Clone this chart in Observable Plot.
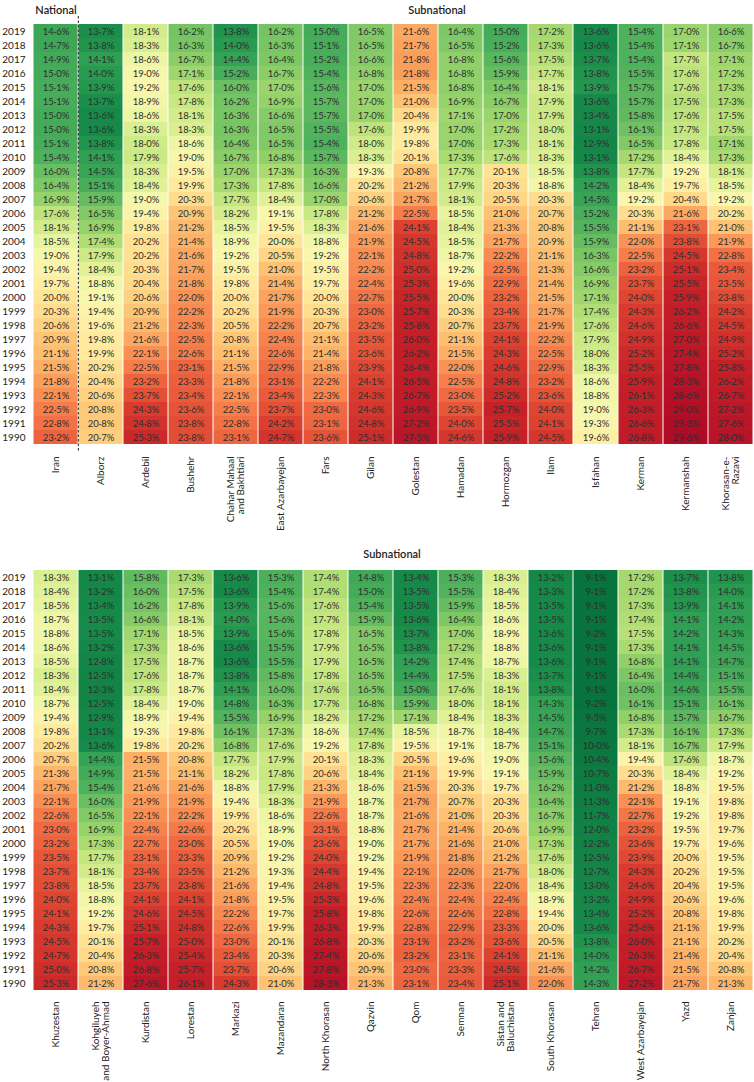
<!DOCTYPE html>
<html>
<head>
<meta charset="utf-8">
<script src="https://cdn.jsdelivr.net/npm/d3@7"></script>
<script src="https://cdn.jsdelivr.net/npm/@observablehq/plot@0.6"></script>
<style>
  html, body { margin: 0; padding: 0; background: #fff; }
  #chart { width: 754px; }
  #chart svg { display: block; }
</style>
</head>
<body>
<div id="chart"></div>
<script>
const years = [2019, 2018, 2017, 2016, 2015, 2014, 2013, 2012, 2011, 2010, 2009, 2008, 2007, 2006, 2005, 2004, 2003, 2002, 2001, 2000, 1999, 1998, 1997, 1996, 1995, 1994, 1993, 1992, 1991, 1990];

// Top panel locations
const topLocations = ["Iran", "Alborz", "Ardebil", "Bushehr", "Chahar Mahaal and Bakhtiari", "East Azarbayejan", "Fars", "Gilan", "Golestan", "Hamadan", "Hormozgan", "Ilam", "Isfahan", "Kerman", "Kermanshah", "Khorasan-e-Razavi"];
const topLabels = ["Iran", "Alborz", "Ardebil", "Bushehr", "Chahar Mahaal\nand Bakhtiari", "East Azarbayejan", "Fars", "Gilan", "Golestan", "Hamadan", "Hormozgan", "Ilam", "Isfahan", "Kerman", "Kermanshah", "Khorasan-e-\nRazavi"];

// Values per location, 2019 -> 1990 (%)
const iran = [14.6, 14.7, 14.9, 15.0, 15.1, 15.1, 15.0, 15.0, 15.1, 15.4, 16.0, 16.4, 16.9, 17.6, 18.1, 18.5, 19.0, 19.4, 19.7, 20.0, 20.3, 20.6, 20.9, 21.1, 21.5, 21.8, 22.1, 22.5, 22.8, 23.2];
const alborz = [13.7, 13.8, 14.1, 14.0, 13.9, 13.7, 13.6, 13.6, 13.8, 14.1, 14.5, 15.1, 15.9, 16.5, 16.9, 17.4, 17.9, 18.4, 18.8, 19.1, 19.4, 19.6, 19.8, 19.9, 20.2, 20.4, 20.6, 20.8, 20.8, 20.7];
const ardebil = [18.1, 18.3, 18.6, 19.0, 19.2, 18.9, 18.6, 18.3, 18.0, 17.9, 18.3, 18.4, 19.0, 19.4, 19.8, 20.2, 20.2, 20.3, 20.4, 20.6, 20.9, 21.2, 21.6, 22.1, 22.5, 23.2, 23.7, 24.3, 24.8, 25.3];
const bushehr = [16.2, 16.3, 16.7, 17.1, 17.6, 17.8, 18.1, 18.3, 18.6, 19.0, 19.5, 19.9, 20.3, 20.9, 21.2, 21.4, 21.6, 21.7, 21.8, 22.0, 22.2, 22.3, 22.5, 22.6, 23.1, 23.3, 23.4, 23.6, 23.8, 23.8];
const chaharMahaal = [13.8, 14.0, 14.4, 15.2, 16.0, 16.2, 16.3, 16.3, 16.4, 16.7, 17.0, 17.3, 17.7, 18.2, 18.5, 18.9, 19.2, 19.5, 19.8, 20.0, 20.2, 20.5, 20.8, 21.1, 21.5, 21.8, 22.1, 22.5, 22.8, 23.1];
const eastAzarbayejan = [16.2, 16.3, 16.4, 16.7, 17.0, 16.9, 16.6, 16.5, 16.5, 16.8, 17.3, 17.8, 18.4, 19.1, 19.5, 20.0, 20.5, 21.0, 21.4, 21.7, 21.9, 22.2, 22.4, 22.6, 22.9, 23.1, 23.4, 23.7, 24.2, 24.7];
const fars = [15.0, 15.1, 15.2, 15.4, 15.6, 15.7, 15.7, 15.5, 15.4, 15.7, 16.3, 16.6, 17.0, 17.8, 18.3, 18.8, 19.2, 19.5, 19.7, 20.0, 20.3, 20.7, 21.1, 21.4, 21.8, 22.2, 22.3, 23.0, 23.1, 23.6];
const gilan = [16.5, 16.5, 16.6, 16.8, 17.0, 17.0, 17.0, 17.6, 18.0, 18.3, 19.3, 20.2, 20.6, 21.2, 21.6, 21.9, 22.1, 22.2, 22.4, 22.7, 23.0, 23.2, 23.5, 23.6, 23.9, 24.1, 24.3, 24.6, 24.8, 25.1];
const golestan = [21.6, 21.7, 21.8, 21.8, 21.5, 21.0, 20.4, 19.9, 19.8, 20.1, 20.8, 21.2, 21.7, 22.5, 24.1, 24.5, 24.8, 25.0, 25.3, 25.5, 25.7, 25.8, 26.0, 26.2, 26.4, 26.5, 26.7, 26.9, 27.2, 27.5];
const hamadan = [16.4, 16.5, 16.8, 16.8, 16.8, 16.9, 17.1, 17.0, 17.0, 17.3, 17.7, 17.9, 18.1, 18.5, 18.4, 18.5, 18.7, 19.2, 19.6, 20.0, 20.3, 20.7, 21.1, 21.5, 22.0, 22.5, 23.0, 23.5, 24.0, 24.6];
const hormozgan = [15.0, 15.2, 15.6, 15.9, 16.4, 16.7, 17.0, 17.2, 17.3, 17.6, 20.1, 20.3, 20.5, 21.0, 21.3, 21.7, 22.2, 22.5, 22.9, 23.2, 23.4, 23.7, 24.1, 24.3, 24.6, 24.8, 25.2, 25.7, 25.5, 25.9];
const ilam = [17.2, 17.3, 17.5, 17.7, 18.1, 17.9, 17.9, 18.0, 18.1, 18.3, 18.5, 18.8, 20.3, 20.7, 20.8, 20.9, 21.1, 21.3, 21.4, 21.5, 21.7, 21.9, 22.2, 22.5, 22.9, 23.2, 23.6, 24.0, 24.1, 24.5];
const isfahan = [13.6, 13.6, 13.7, 13.8, 13.9, 13.6, 13.4, 13.1, 12.9, 13.1, 13.8, 14.2, 14.5, 15.2, 15.5, 15.9, 16.3, 16.6, 16.9, 17.1, 17.4, 17.6, 17.9, 18.0, 18.3, 18.6, 18.8, 19.0, 19.3, 19.6];
const kerman = [15.4, 15.4, 15.4, 15.5, 15.7, 15.7, 15.8, 16.1, 16.5, 17.2, 17.7, 18.4, 19.2, 20.3, 21.1, 22.0, 22.5, 23.2, 23.7, 24.0, 24.3, 24.6, 24.9, 25.2, 25.5, 25.9, 26.1, 26.3, 26.6, 26.8];
const kermanshah = [17.0, 17.1, 17.7, 17.6, 17.6, 17.5, 17.6, 17.7, 17.8, 18.4, 19.2, 19.7, 20.4, 21.6, 23.1, 23.8, 24.5, 25.1, 25.5, 25.9, 26.2, 26.6, 27.0, 27.4, 27.8, 28.3, 28.6, 29.0, 29.3, 29.6];
const khorasanRazavi = [16.6, 16.7, 17.1, 17.2, 17.3, 17.3, 17.5, 17.5, 17.1, 17.3, 18.1, 18.5, 19.2, 20.2, 21.0, 21.9, 22.8, 23.4, 23.5, 23.8, 24.2, 24.5, 24.9, 25.2, 25.8, 26.2, 26.7, 27.2, 27.6, 28.0];

// Bottom panel locations
const bottomLocations = ["Khuzestan", "Kohgiluyeh and Boyer-Ahmad", "Kurdistan", "Lorestan", "Markazi", "Mazandaran", "North Khorasan", "Qazvin", "Qom", "Semnan", "Sistan and Baluchistan", "South Khorasan", "Tehran", "West Azarbayejan", "Yazd", "Zanjan"];
const bottomLabels = ["Khuzestan", "Kohgiluyeh\nand Boyer-Ahmad", "Kurdistan", "Lorestan", "Markazi", "Mazandaran", "North Khorasan", "Qazvin", "Qom", "Semnan", "Sistan and\nBaluchistan", "South Khorasan", "Tehran", "West Azarbayejan", "Yazd", "Zanjan"];

const khuzestan = [18.3, 18.4, 18.5, 18.7, 18.8, 18.6, 18.5, 18.3, 18.4, 18.7, 19.4, 19.8, 20.2, 20.7, 21.3, 21.7, 22.1, 22.6, 23.0, 23.2, 23.5, 23.7, 23.8, 24.0, 24.1, 24.3, 24.5, 24.7, 25.0, 25.3];
const kohgiluyeh = [13.1, 13.2, 13.4, 13.5, 13.5, 13.2, 12.8, 12.5, 12.3, 12.5, 12.9, 13.1, 13.6, 14.4, 14.9, 15.4, 16.0, 16.5, 16.9, 17.3, 17.7, 18.1, 18.5, 18.8, 19.2, 19.7, 20.1, 20.4, 20.8, 21.2];
const kurdistan = [15.8, 16.0, 16.2, 16.6, 17.1, 17.3, 17.5, 17.6, 17.8, 18.4, 18.9, 19.3, 19.8, 21.5, 21.5, 21.6, 21.9, 22.1, 22.4, 22.7, 23.1, 23.4, 23.7, 24.1, 24.6, 25.1, 25.7, 26.3, 26.8, 27.6];
const lorestan = [17.3, 17.5, 17.8, 18.1, 18.5, 18.6, 18.7, 18.7, 18.7, 19.0, 19.4, 19.8, 20.2, 20.8, 21.1, 21.6, 21.9, 22.2, 22.6, 23.0, 23.3, 23.5, 23.8, 24.1, 24.5, 24.8, 25.0, 25.4, 25.7, 26.1];
const markazi = [13.6, 13.6, 13.9, 14.0, 13.9, 13.6, 13.6, 13.8, 14.1, 14.8, 15.5, 16.1, 16.8, 17.7, 18.2, 18.8, 19.4, 19.9, 20.2, 20.5, 20.9, 21.2, 21.6, 21.8, 22.2, 22.6, 23.0, 23.4, 23.7, 24.3];
const mazandaran = [15.3, 15.4, 15.6, 15.6, 15.6, 15.5, 15.5, 15.8, 16.0, 16.3, 16.9, 17.3, 17.6, 17.9, 17.8, 17.9, 18.3, 18.6, 18.9, 19.0, 19.2, 19.3, 19.4, 19.5, 19.7, 19.9, 20.1, 20.3, 20.6, 21.0];
const northKhorasan = [17.4, 17.4, 17.6, 17.7, 17.8, 17.9, 17.9, 17.8, 17.6, 17.7, 18.2, 18.6, 19.2, 20.1, 20.6, 21.3, 21.9, 22.6, 23.1, 23.6, 24.0, 24.4, 24.8, 25.3, 25.8, 26.3, 26.8, 27.4, 27.8, 28.3];
const qazvin = [14.8, 15.0, 15.4, 15.9, 16.5, 16.5, 16.5, 16.5, 16.5, 16.8, 17.2, 17.4, 17.8, 18.3, 18.4, 18.6, 18.7, 18.7, 18.8, 19.0, 19.2, 19.4, 19.5, 19.6, 19.8, 19.9, 20.3, 20.6, 20.9, 21.3];
const qom = [13.4, 13.5, 13.5, 13.6, 13.7, 13.8, 14.2, 14.4, 15.0, 15.9, 17.1, 18.5, 19.5, 20.5, 21.1, 21.5, 21.7, 21.6, 21.7, 21.7, 21.9, 22.1, 22.3, 22.4, 22.6, 22.8, 23.1, 23.2, 23.0, 23.1];
const semnan = [15.3, 15.5, 15.9, 16.4, 17.0, 17.2, 17.4, 17.5, 17.6, 18.0, 18.4, 18.7, 19.1, 19.6, 19.9, 20.3, 20.7, 21.0, 21.4, 21.6, 21.8, 22.0, 22.3, 22.4, 22.6, 22.9, 23.2, 23.1, 23.3, 23.4];
const sistan = [18.3, 18.4, 18.5, 18.6, 18.9, 18.8, 18.7, 18.3, 18.1, 18.1, 18.3, 18.4, 18.7, 19.0, 19.1, 19.7, 20.3, 20.3, 20.6, 21.0, 21.2, 21.7, 22.0, 22.4, 22.8, 23.3, 23.6, 24.1, 24.5, 25.1];
const southKhorasan = [13.2, 13.3, 13.5, 13.5, 13.6, 13.6, 13.6, 13.7, 13.8, 14.3, 14.5, 14.7, 15.1, 15.6, 15.9, 16.2, 16.4, 16.7, 16.9, 17.3, 17.6, 18.0, 18.4, 18.9, 19.4, 20.0, 20.5, 21.1, 21.6, 22.0];
const tehran = [9.1, 9.1, 9.1, 9.1, 9.2, 9.1, 9.1, 9.1, 9.1, 9.2, 9.5, 9.7, 10.0, 10.4, 10.7, 11.0, 11.3, 11.7, 12.0, 12.2, 12.5, 12.7, 13.0, 13.2, 13.4, 13.6, 13.8, 14.0, 14.2, 14.3];
const westAzarbayejan = [17.2, 17.2, 17.3, 17.4, 17.5, 17.3, 16.8, 16.4, 16.0, 16.1, 16.8, 17.3, 18.1, 19.4, 20.3, 21.2, 22.1, 22.7, 23.2, 23.6, 23.9, 24.3, 24.6, 24.9, 25.2, 25.6, 26.0, 26.3, 26.7, 27.2];
const yazd = [13.7, 13.8, 13.9, 14.1, 14.2, 14.1, 14.1, 14.4, 14.6, 15.1, 15.7, 16.1, 16.7, 17.6, 18.4, 18.8, 19.1, 19.2, 19.5, 19.7, 20.0, 20.2, 20.4, 20.6, 20.8, 21.1, 21.1, 21.4, 21.5, 21.7];
const zanjan = [13.8, 14.0, 14.1, 14.2, 14.3, 14.5, 14.7, 15.1, 15.5, 16.1, 16.7, 17.3, 17.9, 18.7, 19.2, 19.5, 19.8, 19.8, 19.7, 19.6, 19.5, 19.5, 19.5, 19.6, 19.8, 19.9, 20.2, 20.4, 20.8, 21.3];

const topSeries = [iran, alborz, ardebil, bushehr, chaharMahaal, eastAzarbayejan, fars, gilan, golestan, hamadan, hormozgan, ilam, isfahan, kerman, kermanshah, khorasanRazavi];
const bottomSeries = [khuzestan, kohgiluyeh, kurdistan, lorestan, markazi, mazandaran, northKhorasan, qazvin, qom, semnan, sistan, southKhorasan, tehran, westAzarbayejan, yazd, zanjan];

function toRows(locations, series) {
  const rows = [];
  locations.forEach((loc, i) => {
    series[i].forEach((v, j) => rows.push({loc, year: years[j], value: v}));
  });
  return rows;
}

// Rank-based (percentile) colour scale over all values: green (low) -> yellow -> red (high)
const allValues = [...topSeries.flat(), ...bottomSeries.flat()].sort(d3.ascending);
const nStops = 21;
const colorDomain = d3.range(nStops).map(i => d3.quantileSorted(allValues, i / (nStops - 1)));
const colorRange = d3.range(nStops).map(i => d3.interpolateRdYlGn(0.975 - 0.955 * i / (nStops - 1)));
const colorOpts = {type: "linear", domain: colorDomain, range: colorRange, interpolate: "rgb", clamp: true};

const fmt = v => v.toFixed(1).replace(".", "\u00b7") + "%";
const W = 754;
const ML = 31, MR = 0;
const FONT = "Lato, 'Open Sans', 'Liberation Sans', sans-serif";

function panel({locations, labels, series, height, marginTop, marginBottom, titles, dashed}) {
  const data = toRows(locations, series);
  const labelMap = new Map(locations.map((l, i) => [l, labels[i]]));
  const bw = (W - ML - MR) / locations.length;
  const marks = [
    Plot.cell(data, {x: "loc", y: "year", fill: "value", insetLeft: 0.5, insetRight: 0.5}),
    Plot.text(data, {x: "loc", y: "year", text: d => fmt(d.value), fill: "#2e2e2e", fontSize: 9.5}),
    Plot.axisX({anchor: "bottom", tickRotate: -90, tickSize: 0, tickPadding: 4, fontSize: 10, label: null, fill: "#222", tickFormat: d => labelMap.get(d)}),
    Plot.axisY({anchor: "left", tickSize: 0, tickPadding: 6, fontSize: 10, label: null, fill: "#222", tickFormat: d => String(d)})
  ];
  if (dashed) {
    marks.push(Plot.ruleX([dashed], {x: d => d, dx: -bw / 2, stroke: "#444", strokeWidth: 1.2, strokeDasharray: "2.5,2"}));
  }
  for (const t of titles) {
    const base = {text: d => d, frameAnchor: "top", dy: t.dy, fontSize: 11, fill: "#222", fontWeight: 600};
    marks.push(Plot.text([t.text], t.x ? {...base, x: () => t.x} : {...base, dx: t.dx || 0}));
  }
  return Plot.plot({
    width: W, height, marginTop, marginBottom, marginLeft: ML, marginRight: MR,
    style: {fontFamily: FONT, fontSize: "10px", color: "#222", background: "#fff", overflow: "visible"},
    x: {domain: locations, padding: 0, axis: null},
    y: {domain: years, padding: 0, axis: null},
    color: colorOpts,
    marks
  });
}

const chart = document.getElementById("chart");
chart.appendChild(panel({
  locations: topLocations, labels: topLabels, series: topSeries,
  height: 530, marginTop: 16, marginBottom: 78,
  titles: [{text: "National", x: "Iran", dy: -10}, {text: "Subnational", dx: 44, dy: -10}],
  dashed: "Alborz"
}));
chart.appendChild(panel({
  locations: bottomLocations, labels: bottomLabels, series: bottomSeries,
  height: 552, marginTop: 33, marginBottom: 85,
  titles: [{text: "Subnational", dx: -1, dy: -13}]
}));
</script>
</body>
</html>
